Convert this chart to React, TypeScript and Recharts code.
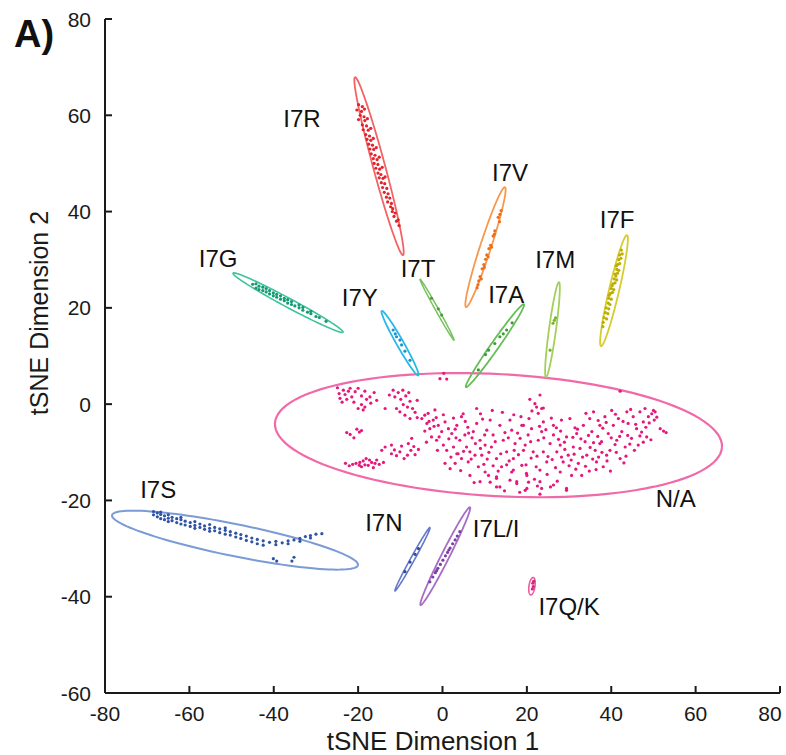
import React from "react";
import { ScatterChart, Scatter, XAxis, YAxis, Label } from "recharts";

// ─── Data (tSNE coordinates) ─────────────────────────────────────────────────
const X_TICKS = [-80, -60, -40, -20, 0, 20, 40, 60, 80];
const Y_TICKS = [-60, -40, -20, 0, 20, 40, 60, 80];

const NA_POINTS = [
  [-24.9, 3.4], [-23.5, 2.9], [-24.5, 2.2], [-23.1, 2.0], [-22.3, 2.7], [-21.5, 1.5], [-24.3, 1.2], [-22.7, 1.0],
  [-20.7, 2.6], [-20.0, 3.3], [-19.2, 1.7], [-18.4, 2.7], [-18.0, 1.0], [-17.2, 1.5], [-16.2, 2.4], [-15.6, 0.8],
  [-19.2, -0.1], [-18.4, -0.6], [-20.0, -0.9], [-18.8, -1.2], [-13.6, -0.9], [-21.9, 3.3],
  [-11.7, 2.9], [-10.5, 2.4], [-9.4, 2.9], [-11.3, 1.5], [-9.9, 1.0], [-8.7, 1.7], [-7.7, 0.6], [-9.3, -0.1],
  [-8.3, -0.6], [-7.1, -0.9], [-6.0, 0.8], [-6.5, -1.7], [-8.9, -2.3], [-7.7, -3.0], [-6.0, -2.8], [-10.9, -0.9],
  [-10.1, -1.6],
  [-22.7, -5.9], [-21.9, -6.3], [-20.3, -5.2], [-19.7, -5.8], [-19.2, -5.5], [-21.0, -7.0],
  [-22.1, -12.8], [-21.3, -12.5], [-20.5, -12.3], [-19.6, -12.1], [-18.8, -11.8], [-18.1, -11.3], [-17.3, -11.6],
  [-16.8, -12.1], [-16.0, -12.3], [-15.0, -12.5], [-14.0, -12.1], [-17.6, -12.7], [-19.2, -13.0], [-16.4, -13.2],
  [-19.7, -12.7], [-15.6, -11.6],
  [-14.4, -9.6], [-13.6, -8.9], [-12.1, -10.3], [-10.9, -10.7], [-10.1, -9.9], [-9.7, -8.7], [-9.1, -11.3],
  [-8.3, -10.6], [-7.5, -9.6], [-6.5, -10.5], [-5.7, -9.4], [-8.1, -8.2], [-12.1, -8.5], [-7.3, -7.1],
  [0.3, 6.4], [1.0, 5.2], [-0.6, 5.3],
  [-4.9, -3.0], [-4.2, -2.3], [-3.7, -4.0], [-3.0, -5.1], [-2.2, -3.3], [-1.5, -2.8], [-1.0, -4.4], [-0.2, -5.7],
  [-2.6, -6.8], [-1.4, -7.5], [0.6, -3.7], [1.4, -5.1], [2.2, -6.1], [0.2, -8.5], [1.0, -9.6], [2.6, -8.9],
  [3.4, -4.4], [4.5, -2.6], [4.9, -2.0], [5.3, -6.4], [4.1, -7.5], [3.7, -10.3], [4.5, -11.3], [3.0, -12.3],
  [0.6, -12.3], [1.8, -13.4], [5.7, -8.9], [6.5, -9.9], [6.1, -12.0], [7.3, -5.7], [8.1, -0.9], [8.1, -4.0],
  [8.9, -7.5], [9.3, -10.6], [8.5, -13.0], [10.1, -14.1], [10.5, -5.4], [11.3, -3.3], [12.0, -6.4], [11.6, -8.9],
  [12.8, -11.3], [10.9, -14.8], [12.8, -15.1], [13.6, -4.4], [14.4, -7.5], [15.2, -9.9], [14.0, -13.0], [16.0, -3.3],
  [16.4, -5.4], [17.2, -8.2], [16.8, -11.3], [16.4, -14.1], [18.8, -4.4], [18.4, -7.1], [19.2, -9.6], [18.8, -12.7],
  [20.0, -14.8], [17.6, -16.1], [13.6, -17.2], [7.7, -10.6], [3.4, -10.3], [6.5, -14.8], [10.1, -8.5],
  [20.7, 1.0], [21.9, 0.1], [22.3, -0.6], [23.1, 1.9], [23.5, -0.9], [22.7, -1.9], [23.9, -0.8], [42.1, 2.7],
  [19.2, -4.4], [20.3, -6.4], [19.6, -8.5], [21.1, -5.1], [21.5, -9.9], [22.7, -7.5], [23.5, -5.7], [23.9, -9.9],
  [24.7, -12.0], [23.1, -13.7], [25.5, -8.2], [26.3, -6.4], [26.3, -4.4], [27.1, -9.9], [27.9, -8.5], [28.2, -3.3],
  [28.6, -12.0], [29.4, -6.8], [29.8, -10.6], [30.6, -14.8], [31.0, -8.9], [31.8, -6.1], [32.2, -12.3], [33.0, -14.8],
  [33.4, -4.4], [33.8, -7.8], [34.2, -10.6], [34.9, -3.0], [35.4, -5.7], [35.8, -1.6], [36.2, -9.6], [36.5, -12.0],
  [37.3, -4.4], [37.7, -7.8], [38.1, -13.0], [38.5, -2.6], [39.3, -6.1], [39.7, -9.6], [40.1, -1.3], [40.5, -4.4],
  [41.3, -7.5], [41.7, -3.0], [42.1, -11.3], [42.5, -5.7], [43.3, -8.9], [43.7, -1.6], [44.0, -4.0], [44.8, -7.1],
  [45.2, -2.6], [46.0, -5.1], [46.4, -8.5], [46.8, -1.6], [47.6, -3.7], [48.0, -0.9], [48.4, -6.8], [48.8, -2.6],
  [49.6, -2.0], [50.0, -1.3], [50.4, -1.6], [51.6, -5.1], [52.4, -5.6], [53.0, -5.9], [26.3, -16.8], [29.4, -17.9],
  [23.1, -16.1], [20.0, -17.5], [27.9, -14.1], [37.3, -8.2], [38.9, -10.6], [32.6, -9.2], [30.2, -3.0], [23.9, -3.7],
  [8.9, -16.1], [12.8, -17.2], [17.6, -16.5], [19.6, -17.9], [23.1, -18.7], [23.5, -17.5], [29.4, -17.5],
  [16.8, -13.7], [19.9, -14.4], [12.8, -15.4],
  [6.0, -4.8], [7.0, -7.0], [9.5, -3.1], [11.0, -10.0], [12.5, -7.8], [14.8, -5.9], [15.8, -11.8], [17.8, -6.0],
  [18.0, -10.5], [19.8, -12.6], [21.0, -11.2], [22.2, -13.0], [24.0, -7.0], [25.0, -10.9], [26.8, -13.2], [28.0, -5.6],
  [29.0, -9.4], [30.5, -11.6], [31.4, -4.9], [32.8, -7.2], [33.9, -12.9], [35.0, -9.0], [36.8, -6.7], [38.0, -5.0],
  [39.0, -11.8], [40.9, -8.4], [42.8, -3.6], [43.9, -6.5], [45.5, -9.6], [47.2, -5.8], [49.0, -3.9], [50.8, -2.7],
  [44.6, -1.1], [41.0, -2.1], [36.9, -3.4], [34.0, -1.9], [30.9, -6.9], [27.5, -7.3], [25.8, -2.9], [23.0, -4.6],
  [20.5, -3.0], [16.9, -2.2], [14.2, -1.7], [11.8, -1.3], [9.0, -2.0], [5.4, -3.6], [2.6, -2.9], [0.2, -2.2],
  [-1.8, -1.2], [-3.4, -1.9], [3.2, -7.0], [6.8, -11.4], [9.8, -12.5], [13.2, -13.9], [16.0, -15.8], [21.8, -15.6],
  [24.8, -14.6], [27.2, -16.0], [31.6, -13.5], [35.6, -11.4], [39.8, -13.9], [43.5, -10.8], [47.6, -7.9], [4.3, -13.8],
  [7.5, -16.3], [11.3, -16.2], [14.7, -18.0], [18.3, -18.3], [-1.2, -9.6], [-3.8, -7.9], [-4.2, -5.6],
  [20.9, -7.8], [22.4, -10.8], [24.5, -5.3], [26.0, -11.5], [27.0, -4.9], [28.9, -7.9], [30.0, -12.8], [31.2, -10.4],
  [32.0, -5.2], [33.2, -11.0], [34.6, -6.5], [35.8, -8.0], [36.4, -13.6], [37.8, -10.0], [38.8, -3.8], [40.0, -7.0],
  [41.2, -10.0], [42.0, -6.7], [43.0, -12.2], [44.4, -8.3], [45.8, -4.2], [46.8, -6.6], [48.2, -4.8], [49.4, -7.4],
  [50.2, -3.3], [17.0, -9.6], [15.2, -12.6], [13.8, -10.3], [12.0, -12.8], [10.6, -11.4], [9.0, -9.2], [7.8, -8.2],
  [6.2, -6.0], [5.0, -9.8], [3.0, -5.2], [1.5, -7.2], [-0.8, -6.8], [2.0, -11.0], [-2.0, -4.6], [-3.2, -3.6],
  [10.0, -6.4], [15.6, -7.0], [20.4, -16.2], [25.6, -17.2], [22.5, -17.0], [28.2, -11.0], [34.8, -13.9], [37.0, -11.0],
  [18.6, -2.6], [21.2, -1.4], [-23.8, 0.4], [-21.0, 0.4], [-17.0, 0.2], [-12.6, 1.9], [-8.0, 2.4], [-23.0, -12.3],
  [-18.4, -12.6], [-11.4, -9.5], [-6.8, -8.8],
];

const R_POINTS = [
  [-19.9, 62.2], [-19.0, 61.8], [-20.3, 61.1], [-19.2, 60.8], [-18.5, 61.3], [-19.5, 60.0], [-18.6, 59.7],
  [-19.9, 59.1], [-18.4, 58.9], [-17.8, 59.3], [-19.0, 58.0], [-18.0, 57.8], [-18.8, 57.0], [-17.6, 56.9],
  [-17.0, 57.3], [-18.2, 56.0], [-17.3, 55.7], [-17.9, 55.0], [-17.0, 54.8], [-16.4, 55.2], [-17.5, 54.0],
  [-16.6, 53.8], [-17.2, 53.0], [-16.3, 52.9], [-15.7, 53.3], [-16.9, 52.0], [-16.0, 51.7], [-16.4, 51.0],
  [-15.5, 50.8], [-15.0, 51.3], [-16.2, 50.0], [-15.3, 49.8], [-15.8, 49.0], [-14.9, 48.8], [-14.3, 49.2],
  [-15.3, 48.0], [-14.6, 47.7], [-15.0, 47.0], [-14.1, 46.9], [-13.6, 47.2], [-14.5, 46.0], [-13.7, 45.8],
  [-14.2, 45.0], [-13.2, 44.8], [-13.8, 44.0], [-12.9, 43.7], [-13.3, 43.0], [-12.5, 42.8], [-13.0, 42.0],
  [-12.1, 41.7], [-12.3, 41.0], [-11.8, 40.6], [-11.9, 40.0], [-11.2, 39.7], [-11.5, 39.0], [-10.9, 38.0],
  [-10.5, 38.3], [-10.3, 37.1],
];

const V_POINTS = [
  [13.9, 40.2], [13.6, 39.4], [13.2, 38.8], [13.5, 37.9], [12.4, 36.0], [12.0, 34.9], [12.3, 35.3], [11.4, 33.0],
  [11.0, 32.3], [11.6, 32.6], [10.5, 31.0], [10.2, 30.1], [10.8, 30.6], [9.8, 29.0], [9.4, 28.1], [9.9, 28.4],
  [8.9, 26.5], [8.6, 25.6], [9.2, 26.0], [8.2, 24.2], [8.4, 24.8],
];

const F_POINTS = [
  [42.4, 32.0], [42.0, 31.0], [42.6, 31.2], [41.8, 30.0], [42.3, 30.3], [41.5, 29.0], [42.0, 29.2], [41.2, 28.7],
  [41.3, 28.0], [41.8, 27.8], [40.9, 27.0], [41.5, 27.2], [41.1, 26.6], [40.7, 26.0], [41.3, 25.8], [40.4, 25.0],
  [40.9, 25.2], [40.2, 24.6], [40.0, 24.0], [40.6, 23.8], [39.8, 23.0], [40.3, 23.2], [39.5, 22.6], [39.4, 22.0],
  [40.0, 21.8], [39.3, 21.0], [39.7, 20.7], [38.8, 20.0], [39.4, 19.8], [38.6, 19.0], [39.2, 18.8], [38.3, 18.0],
  [38.9, 17.7], [38.1, 17.0], [38.0, 16.1],
];

const M_POINTS = [[26.5, 17.4], [26.2, 16.8], [25.5, 11.2], [26.8, 17.9]];
const A_POINTS = [[15.2, 15.4], [14.4, 14.6], [13.6, 14.0], [12.4, 12.6], [10.9, 11.2], [10.2, 10.3], [8.5, 7.1], [16.5, 16.9]];
const T_POINTS = [[-2.6, 22.0], [-0.2, 18.5], [-1.0, 19.8]];
const Y_POINTS = [[-11.7, 15.4], [-10.9, 14.0], [-10.1, 13.3], [-9.7, 12.3], [-8.9, 11.0], [-7.7, 9.1], [-11.2, 14.6]];

const G_POINTS = [
  [-45.0, 24.9], [-44.2, 24.1], [-44.2, 25.0], [-43.5, 24.5], [-43.5, 23.8], [-42.6, 23.6], [-42.6, 24.3],
  [-41.8, 23.3], [-41.8, 24.0], [-41.0, 22.9], [-41.0, 23.6], [-40.1, 22.5], [-40.1, 23.1], [-39.3, 22.2],
  [-39.3, 22.8], [-38.4, 21.8], [-38.4, 22.5], [-37.5, 21.5], [-37.5, 22.0], [-36.7, 21.0], [-36.7, 21.7],
  [-35.8, 20.7], [-35.8, 21.3], [-35.0, 20.4], [-34.0, 20.0], [-34.0, 20.6], [-33.1, 19.5], [-33.1, 20.1],
  [-32.0, 19.1], [-31.2, 18.8], [-31.2, 19.3], [-30.0, 18.2], [-29.2, 18.0], [-27.6, 17.2],
];

const S_POINTS = [
  [-68.5, -22.3], [-68.5, -23.0], [-67.6, -22.6], [-67.6, -23.4], [-66.8, -22.9], [-66.8, -23.8], [-66.8, -22.4],
  [-65.9, -23.2], [-65.9, -24.0], [-65.0, -23.0], [-65.0, -23.7], [-65.0, -24.4], [-64.1, -23.5], [-64.1, -24.2],
  [-63.0, -23.8], [-63.0, -24.6], [-62.0, -24.0], [-62.0, -24.9], [-62.0, -23.5], [-61.0, -24.3], [-61.0, -25.1],
  [-59.8, -24.6], [-59.8, -25.4], [-58.7, -24.4], [-58.7, -25.2], [-58.7, -25.8], [-57.5, -24.9], [-57.5, -25.6],
  [-56.4, -25.3], [-56.4, -26.0], [-55.2, -25.0], [-55.2, -25.8], [-55.2, -26.4], [-54.0, -25.6], [-54.0, -26.3],
  [-52.8, -25.9], [-52.8, -26.7], [-51.5, -26.2], [-51.5, -27.0], [-51.5, -25.7], [-50.3, -26.5], [-50.3, -27.2],
  [-49.0, -26.8], [-49.0, -27.6], [-47.8, -27.1], [-47.8, -27.9], [-46.5, -27.4], [-46.5, -28.3], [-45.2, -27.8],
  [-45.2, -28.6], [-43.9, -28.1], [-43.9, -29.0], [-42.5, -28.4], [-42.5, -29.3], [-41.0, -28.7], [-39.5, -28.5],
  [-39.5, -29.2], [-38.0, -28.8], [-36.6, -28.4], [-36.6, -29.0], [-35.2, -28.2], [-33.8, -27.9], [-33.8, -28.5],
  [-32.5, -27.5], [-31.3, -27.3], [-31.3, -27.8], [-30.0, -27.0], [-28.6, -26.9],
  [-40.1, -32.1], [-39.3, -32.6], [-35.7, -32.6], [-35.2, -31.8],
];

const N_POINTS = [[-5.7, -30.0], [-6.5, -31.2], [-7.7, -32.8], [-8.9, -34.8]];
const LI_POINTS = [
  [4.1, -26.5], [3.5, -27.4], [3.0, -28.2], [2.4, -29.0], [1.8, -29.9], [1.2, -30.8], [0.7, -31.5], [0.1, -32.4],
  [-0.5, -33.3], [-1.1, -34.1], [-1.7, -35.0], [-2.3, -35.9], [-3.0, -36.9], [-1.4, -34.6], [1.5, -30.3],
];
const QK_POINTS = [[21.4, -37.2], [21.5, -37.9], [21.3, -38.4], [21.6, -36.8]];

// confidence ellipses: centre, end of major axis, minor half-width
const ELLIPSE_NAMES = ["N/A", "I7R", "I7V", "I7F", "I7M", "I7A", "I7T", "I7Y", "I7G", "I7S", "I7N", "I7L/I", "I7Q/K"];
const ELLIPSE_CENTERS = [
  [13.27, -6.44], [-15.05, 49.44], [10.19, 32.61], [40.65, 23.58], [26.07, 15.48], [12.44, 12.15], [-1.3, 19.63],
  [-10.07, 12.67], [-36.62, 21.08], [-49.18, -28.25], [-7.11, -32.2], [0.66, -31.57], [21.21, -37.81],
];
const ELLIPSE_ENDS = [
  [66.25, -8.93], [-20.74, 67.93], [14.81, 45.08], [43.73, 35.11], [27.61, 25.34], [19.32, 20.77], [-5.33, 25.97],
  [-14.41, 19.38], [-49.66, 27.21], [-20.03, -33.44], [-2.96, -25.61], [6.52, -21.4], [21.52, -36.0],
];
const ELLIPSE_HALF_WIDTHS = [14.46, 1.42, 1.3, 1.19, 0.83, 0.95, 0.36, 0.83, 1.07, 3.79, 0.47, 0.95, 0.71];

const LABEL_NAMES = ["I7R", "I7V", "I7F", "I7G", "I7T", "I7M", "I7Y", "I7A", "N/A", "I7S", "I7N", "I7L/I", "I7Q/K"];
const LABEL_X = [-33.3, 16.0, 41.4, -53.2, -5.8, 26.7, -19.6, 15.1, 55.3, -67.4, -13.9, 12.7, 30.0];
const LABEL_Y = [59.4, 48.2, 38.4, 30.3, 28.3, 30.1, 22.2, 22.8, -19.5, -17.7, -24.5, -25.8, -42.0];

// ─── Styles ──────────────────────────────────────────────────────────────────
const FONT = "'Liberation Sans', Arial, sans-serif";
const INK = "#1a1a1a";
const ASPECT = 4.814 / 4.219; // px per y-unit / px per x-unit

const CLUSTERS: { name: string; points: number[][]; line: string; dot: string; lw: number }[] = [
  { name: "N/A", points: NA_POINTS, line: "#f06aa8", dot: "#e6177c", lw: 2.2 },
  { name: "I7R", points: R_POINTS, line: "#f26464", dot: "#e4222c", lw: 1.8 },
  { name: "I7V", points: V_POINTS, line: "#f7984f", dot: "#ee6e1c", lw: 1.8 },
  { name: "I7F", points: F_POINTS, line: "#d6cc2e", dot: "#bdae00", lw: 1.8 },
  { name: "I7M", points: M_POINTS, line: "#a2d05a", dot: "#78b22c", lw: 1.8 },
  { name: "I7A", points: A_POINTS, line: "#66be58", dot: "#3d9a36", lw: 1.8 },
  { name: "I7T", points: T_POINTS, line: "#78c260", dot: "#4d9a3a", lw: 1.5 },
  { name: "I7Y", points: Y_POINTS, line: "#2cb6ea", dot: "#1796cc", lw: 1.8 },
  { name: "I7G", points: G_POINTS, line: "#3cc49a", dot: "#159a74", lw: 1.6 },
  { name: "I7S", points: S_POINTS, line: "#7b9bd6", dot: "#2f54a6", lw: 2.0 },
  { name: "I7N", points: N_POINTS, line: "#6479c8", dot: "#3347a0", lw: 1.6 },
  { name: "I7L/I", points: LI_POINTS, line: "#a86cc8", dot: "#7e3ea8", lw: 1.8 },
  { name: "I7Q/K", points: QK_POINTS, line: "#ee5aa0", dot: "#d8257a", lw: 1.6 },
];

function ellipseOutline(i: number) {
  const [cx, cy] = ELLIPSE_CENTERS[i];
  const [ex, ey] = ELLIPSE_ENDS[i];
  const w = ELLIPSE_HALF_WIDTHS[i];
  const vx = ex - cx;
  const vy = (ey - cy) * ASPECT;
  const len = Math.hypot(vx, vy);
  const px = (-vy / len) * w;
  const py = (vx / len) * w;
  const out: { x: number; y: number }[] = [];
  for (let k = 0; k <= 120; k++) {
    const t = (k / 120) * Math.PI * 2;
    out.push({
      x: cx + vx * Math.cos(t) + px * Math.sin(t),
      y: cy + (vy * Math.cos(t) + py * Math.sin(t)) / ASPECT,
    });
  }
  return out;
}

const labelData = LABEL_NAMES.map((name, i) => ({ name, x: LABEL_X[i], y: LABEL_Y[i] }));

// ─── Axis ticks (tick marks point inward) ────────────────────────────────────
function XTick({ x, y, payload }: any) {
  const last = payload.value === X_TICKS[X_TICKS.length - 1];
  return (
    <g>
      <line x1={x} y1={y} x2={x} y2={y - 7} stroke={INK} strokeWidth={2} />
      <text x={last ? x - 10 : x} y={y + 28} textAnchor="middle" fontSize={21} fontFamily={FONT} fill={INK}>
        {payload.value}
      </text>
    </g>
  );
}

function YTick({ x, y, payload }: any) {
  return (
    <g>
      <line x1={x} y1={y} x2={x + 7} y2={y} stroke={INK} strokeWidth={2} />
      <text x={x - 14} y={y} dy="0.36em" textAnchor="end" fontSize={21} fontFamily={FONT} fill={INK}>
        {payload.value}
      </text>
    </g>
  );
}

const noShape = () => <g />;

export default function App() {
  return (
    <div style={{ position: "absolute", left: 0, top: 0, width: 786, height: 755, background: "#fff" }}>
      <ScatterChart width={786} height={755} margin={{ top: 19, right: 6, bottom: 0, left: 45 }}>
        <XAxis
          type="number"
          dataKey="x"
          domain={[-80, 80]}
          ticks={X_TICKS}
          allowDataOverflow
          height={62}
          tickSize={0}
          tickMargin={0}
          tickLine={false}
          tick={<XTick />}
          axisLine={{ stroke: INK, strokeWidth: 2 }}
          interval={0}
        >
          <Label
            content={() => (
              <text x={433} y={749.5} textAnchor="middle" fontSize={26} fontFamily={FONT} fill={INK}>
                tSNE Dimension 1
              </text>
            )}
          />
        </XAxis>
        <YAxis
          type="number"
          dataKey="y"
          domain={[-60, 80]}
          ticks={Y_TICKS}
          allowDataOverflow
          width={60}
          tickSize={0}
          tickMargin={0}
          tickLine={false}
          tick={<YTick />}
          axisLine={{ stroke: INK, strokeWidth: 2 }}
          interval={0}
        >
          <Label
            content={() => (
              <g>
                <text
                  transform="translate(48,313) rotate(-90)"
                  textAnchor="middle"
                  fontSize={25}
                  fontFamily={FONT}
                  fill={INK}
                >
                  tSNE Dimension 2
                </text>
                <text x={14} y={47} fontSize={38} fontWeight="bold" fontFamily={FONT} fill="#111">
                  A)
                </text>
              </g>
            )}
          />
        </YAxis>

        {CLUSTERS.map((c) => (
          <Scatter
            key={"e-" + c.name}
            data={ellipseOutline(ELLIPSE_NAMES.indexOf(c.name))}
            line={{ stroke: c.line, strokeWidth: c.lw }}
            lineType="joint"
            shape={noShape}
            isAnimationActive={false}
          />
        ))}
        {CLUSTERS.map((c) => (
          <Scatter
            key={"p-" + c.name}
            data={c.points.map(([x, y]) => ({ x, y }))}
            fill={c.dot}
            shape={(p: any) => <circle cx={p.cx} cy={p.cy} r={1.6} fill={c.dot} />}
            isAnimationActive={false}
          />
        ))}
        <Scatter
          data={labelData}
          isAnimationActive={false}
          shape={(p: any) => (
            <text x={p.cx} y={p.cy} dy="0.36em" textAnchor="middle" fontSize={24} fontFamily={FONT} fill="#111">
              {p.payload.name}
            </text>
          )}
        />
      </ScatterChart>
    </div>
  );
}
